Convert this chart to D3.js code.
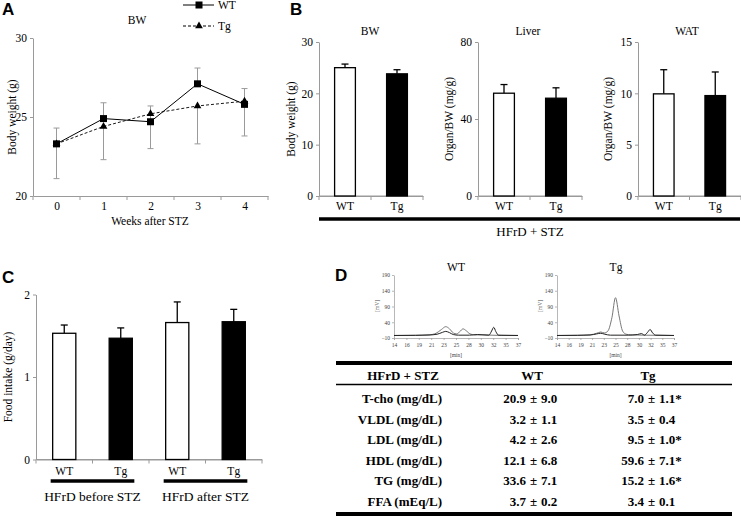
<!DOCTYPE html>
<html><head><meta charset="utf-8">
<script src="https://cdn.jsdelivr.net/npm/d3@7"></script>
<style>body{margin:0;background:#fff} svg{display:block}</style>
</head><body>
<svg id="c" width="741" height="517"></svg>
<script>
// ---------- DATA ----------
const weeks = ["0", "1", "2", "3", "4"];
const bwWT = [23.3, 24.9, 24.7, 27.1, 25.8];
const bwTg = [23.3, 24.4, 25.2, 25.7, 26.0];
const bwWTerrUp = [1.0, 1.0, 1.0, 1.0, 1.0];
const bwTgErrDown = [2.2, 2.1, 2.2, 2.4, 2.2];
const bwTicks = [20, 25, 30];

const groups = ["WT", "Tg"];
const organBW = [25.0, 23.8];
const organBWerr = [0.7, 0.8];
const organBWticks = [0, 10, 20, 30];
const organLiver = [53.4, 50.8];
const organLiverErr = [4.5, 5.4];
const organLiverTicks = [0, 40, 80];
const organWAT = [9.95, 9.78];
const organWATerr = [2.35, 2.3];
const organWATticks = [0, 5, 10, 15];

const foodIds = ["b-WT", "b-Tg", "a-WT", "a-Tg"];
const foodLabels = ["WT", "Tg", "WT", "Tg"];
const foodVals = [1.53, 1.47, 1.66, 1.67];
const foodErr = [0.10, 0.125, 0.25, 0.15];
const foodTicks = [0, 1, 2];
const foodGroups = ["HFrD before STZ", "HFrD after STZ"];

const chromXLabels = ["14", "16", "19", "21", "23", "25", "28", "30", "32", "35", "37"];
const chromYTicks = [-10, 40, 90, 140, 190];
const wtTraceA = [[14,-2],[18,-1.5],[20.5,0],[21.8,5],[22.8,17],[23.6,26],[24.3,19],[25,6],[25.6,3],[26.2,10],[26.8,19],[27.4,13],[28.1,3],[29,0],[30.5,0],[32,-1],[34,-2],[37,-2]];
const wtTraceB = [[14,-2],[18,-1.5],[20.5,-0.5],[22,2],[23,8],[23.6,11],[24.3,7],[25,1],[26,-1],[28,-1],[29.5,1],[30.5,0],[31.6,-1],[32.1,12],[32.5,24],[32.9,10],[33.4,-1],[37,-2]];
const tgTraceA = [[14,-2],[18,-1.5],[20.5,0],[21.8,5],[22.6,9],[23.3,6],[24,12],[24.8,55],[25.5,118],[26.2,60],[26.9,12],[27.6,2],[28.5,0],[31,-1],[37,-2]];
const tgTraceB = [[14,-2],[18,-1.5],[20.5,-0.5],[21.8,3],[22.6,5],[23.4,2],[24.5,-1],[28,-1],[29.8,1],[30.6,4],[31.2,-1],[31.8,8],[32.3,17],[32.8,6],[33.4,-1],[37,-2]];

const tableHeader = ["HFrD + STZ", "WT", "Tg"];
const tableRows = ["T-cho (mg/dL)", "VLDL (mg/dL)", "LDL (mg/dL)", "HDL (mg/dL)", "TG (mg/dL)", "FFA (mEq/L)"];
const tableWTmean = ["20.9", "3.2", "4.2", "12.1", "33.6", "3.7"];
const tableWTsd = ["9.0", "1.1", "2.6", "6.8", "7.1", "0.2"];
const tableTgMean = ["7.0", "3.5", "9.5", "59.6", "15.2", "3.4"];
const tableTgSd = ["1.1*", "0.4", "1.0*", "7.1*", "1.6*", "0.1"];

// ---------- DRAW ----------
const svg = d3.select("#c");
const SERIF = "'Liberation Serif','Times New Roman',serif";
const SANS = "'Liberation Sans',Arial,sans-serif";
const AX = "#9a9a9a";

function panelLetter(t, x, y) {
  svg.append("text").attr("x", x).attr("y", y).text(t)
    .attr("font-family", SANS).attr("font-weight", "bold").attr("font-size", 17);
}
function txt(g, t, x, y, size, anchor, extra) {
  const e = g.append("text").attr("x", x).attr("y", y).text(t)
    .attr("font-family", SERIF).attr("font-size", size).attr("text-anchor", anchor || "middle");
  if (extra) extra(e);
  return e;
}
function styleAxis(sel) {
  sel.selectAll("path.domain").attr("stroke", AX).attr("stroke-width", 1);
  sel.selectAll(".tick line").attr("stroke", AX);
  sel.selectAll(".tick text").attr("font-family", SERIF).attr("font-size", 11.5).attr("fill", "#000");
}
function yAxis(g, y, x0, ticks) {
  const a = g.append("g").attr("transform", `translate(${x0},0)`)
    .call(d3.axisLeft(y).tickValues(ticks).tickFormat(d3.format("~g")).tickSize(3).tickSizeOuter(0).tickPadding(3));
  styleAxis(a);
}
function xAxisBand(g, x, yPix, labels, pad) {
  const a = g.append("g").attr("transform", `translate(0,${yPix})`)
    .call(d3.axisBottom(x).tickSize(0).tickSizeOuter(0).tickPadding(pad).tickFormat((d, i) => labels[i]));
  styleAxis(a);
  const step = x.step();
  const bounds = x.domain().map(d => x(d) + x.bandwidth() / 2 - step / 2);
  bounds.push(x.range()[1]);
  a.append("path").attr("d", `M${x.range()[0]},0H${x.range()[1]}`).attr("stroke", AX);
  g.selectAll(null).data(bounds).enter().append("line")
    .attr("x1", d => d).attr("x2", d => d).attr("y1", yPix).attr("y2", yPix + 4).attr("stroke", AX);
}

// ===== Panel A =====
panelLetter("A", 2, 15);
{
  const g = svg.append("g");
  const x = d3.scalePoint().domain(weeks).range([33, 268]).padding(0.5);
  const y = d3.scaleLinear().domain([20, 30]).range([196, 38]);
  yAxis(g, y, 33, bwTicks);
  const a = g.append("g").attr("transform", "translate(0,196)")
    .call(d3.axisBottom(x).tickSize(0).tickSizeOuter(0).tickPadding(6));
  styleAxis(a);
  const step = x.step();
  const bounds = weeks.map(d => x(d) - step / 2).concat([x(weeks[weeks.length - 1]) + step / 2]);
  g.selectAll(null).data(bounds).enter().append("line")
    .attr("x1", d => d).attr("x2", d => d).attr("y1", 196).attr("y2", 200).attr("stroke", AX);
  txt(g, "Weeks after STZ", 150, 225, 11.5);
  txt(g, "BW", 137, 24, 11.5);
  txt(g, "Body weight (g)", 0, 0, 11.5, "middle", e => e.attr("transform", "translate(16,117) rotate(-90)"));
  const eb = (xi, y1, y2) => {
    g.append("line").attr("x1", xi).attr("x2", xi).attr("y1", y1).attr("y2", y2).attr("stroke", AX);
    g.append("line").attr("x1", xi - 3).attr("x2", xi + 3).attr("y1", y2).attr("y2", y2).attr("stroke", AX);
  };
  weeks.forEach((w, i) => {
    eb(x(w), y(bwWT[i]), y(bwWT[i] + bwWTerrUp[i]));
    eb(x(w), y(bwTg[i]), y(bwTg[i] - bwTgErrDown[i]));
  });
  const line = d3.line().x((d, i) => x(weeks[i])).y(d => y(d));
  g.append("path").attr("d", line(bwTg)).attr("fill", "none").attr("stroke", "#000").attr("stroke-width", 0.9).attr("stroke-dasharray", "3,2");
  g.append("path").attr("d", line(bwWT)).attr("fill", "none").attr("stroke", "#000").attr("stroke-width", 1);
  const tri = d3.symbol().type(d3.symbolTriangle).size(26);
  g.selectAll(null).data(bwTg).enter().append("path").attr("d", tri)
    .attr("transform", (d, i) => `translate(${x(weeks[i])},${y(d)})`).attr("fill", "#000");
  g.selectAll(null).data(bwWT).enter().append("rect")
    .attr("x", (d, i) => x(weeks[i]) - 3.5).attr("y", d => y(d) - 3.5).attr("width", 7).attr("height", 7).attr("fill", "#000");
  g.append("line").attr("x1", 183).attr("x2", 214).attr("y1", 5).attr("y2", 5).attr("stroke", "#000");
  g.append("rect").attr("x", 195.5).attr("y", 1.5).attr("width", 7).attr("height", 7).attr("fill", "#000");
  txt(g, "WT", 218, 9, 11.5, "start");
  g.append("line").attr("x1", 183).attr("x2", 214).attr("y1", 26).attr("y2", 26).attr("stroke", "#000").attr("stroke-dasharray", "3,2");
  g.append("path").attr("d", tri).attr("transform", "translate(199,26)").attr("fill", "#000");
  txt(g, "Tg", 218, 30, 11.5, "start");
}

// ===== Panel B =====
panelLetter("B", 290, 15);
function barPanel(o) {
  const g = svg.append("g");
  const x = d3.scaleBand().domain(o.ids).range([o.x0, o.x1]).paddingInner(o.pad).paddingOuter(o.pad / 2);
  const y = d3.scaleLinear().domain(o.domain).range([o.yBot, o.yTop]);
  yAxis(g, y, o.x0, o.ticks);
  xAxisBand(g, x, o.yBot, o.labels, o.tickPad);
  g.selectAll(null).data(o.vals).enter().append("line")
    .attr("x1", (d, i) => x(o.ids[i]) + x.bandwidth() / 2).attr("x2", (d, i) => x(o.ids[i]) + x.bandwidth() / 2)
    .attr("y1", d => y(d)).attr("y2", (d, i) => y(d + o.errs[i])).attr("stroke", "#000").attr("stroke-width", 1.3);
  g.selectAll(null).data(o.vals).enter().append("line")
    .attr("x1", (d, i) => x(o.ids[i]) + x.bandwidth() / 2 - 3.5).attr("x2", (d, i) => x(o.ids[i]) + x.bandwidth() / 2 + 3.5)
    .attr("y1", (d, i) => y(d + o.errs[i])).attr("y2", (d, i) => y(d + o.errs[i])).attr("stroke", "#000").attr("stroke-width", 1.3);
  g.selectAll(null).data(o.vals).enter().append("rect")
    .attr("x", (d, i) => x(o.ids[i])).attr("width", x.bandwidth())
    .attr("y", d => y(d)).attr("height", d => o.yBot - y(d))
    .attr("fill", (d, i) => o.labels[i] === "WT" ? "#fff" : "#000").attr("stroke", "#000").attr("stroke-width", 1.3);
  if (o.title) txt(g, o.title, o.titleX, 35, 11.5);
  txt(g, o.ylabel, 0, 0, 11.5, "middle", e => e.attr("transform", `translate(${o.ylabelX},${o.ylabelY}) rotate(-90)`));
  return g;
}
barPanel({ ids: groups, labels: groups, vals: organBW, errs: organBWerr, domain: [0, 30], ticks: organBWticks,
  x0: 319, x1: 423, yTop: 42, yBot: 196, pad: 0.6, tickPad: 6, title: "BW", titleX: 370, ylabel: "Body weight (g)", ylabelX: 295, ylabelY: 119 });
barPanel({ ids: groups, labels: groups, vals: organLiver, errs: organLiverErr, domain: [0, 80], ticks: organLiverTicks,
  x0: 478, x1: 582, yTop: 42, yBot: 196, pad: 0.6, tickPad: 6, title: "Liver", titleX: 528, ylabel: "Organ/BW (mg/g)", ylabelX: 453, ylabelY: 119 });
barPanel({ ids: groups, labels: groups, vals: organWAT, errs: organWATerr, domain: [0, 15], ticks: organWATticks,
  x0: 638, x1: 741, yTop: 42, yBot: 196, pad: 0.6, tickPad: 6, title: "WAT", titleX: 687, ylabel: "Organ/BW (mg/g)", ylabelX: 612, ylabelY: 119 });
svg.append("line").attr("x1", 319).attr("x2", 740).attr("y1", 219).attr("y2", 219).attr("stroke", "#000").attr("stroke-width", 3.5);
txt(svg, "HFrD + STZ", 530, 236, 13);

// ===== Panel C =====
panelLetter("C", 2, 283);
{
  barPanel({ ids: foodIds, labels: foodLabels, vals: foodVals, errs: foodErr, domain: [0, 2], ticks: foodTicks,
    x0: 36, x1: 262, yTop: 294.5, yBot: 459.5, pad: 0.59, tickPad: 7, title: null, ylabel: "Food intake (g/day)", ylabelX: 12, ylabelY: 377 });
  const x = d3.scaleBand().domain(foodIds).range([36, 262]).paddingInner(0.59).paddingOuter(0.295);
  const pairs = [[foodIds[0], foodIds[1]], [foodIds[2], foodIds[3]]];
  pairs.forEach((p, i) => {
    const xa = x(p[0]) - 2, xb = x(p[1]) + x.bandwidth() + 2;
    svg.append("line").attr("x1", xa).attr("x2", xb).attr("y1", 481).attr("y2", 481).attr("stroke", "#000").attr("stroke-width", 3.5);
    txt(svg, foodGroups[i], (xa + xb) / 2, 501, 13.5);
  });
}

// ===== Panel D =====
panelLetter("D", 335, 281);
function chrom(o) {
  const g = svg.append("g");
  const x = d3.scaleLinear().domain([14, 37]).range([o.x0, o.x1]);
  const y = d3.scaleLinear().domain([-10, 190]).range([338, 275]);
  const ax = g.append("g").attr("transform", `translate(${o.x0},0)`)
    .call(d3.axisLeft(y).tickValues(chromYTicks).tickSize(2).tickSizeOuter(0).tickPadding(2));
  ax.selectAll("path.domain").attr("stroke", AX).attr("stroke-width", 0.7);
  ax.selectAll(".tick line").attr("stroke", AX).attr("stroke-width", 0.7);
  ax.selectAll(".tick text").attr("font-family", SERIF).attr("font-size", 5.5).attr("fill", "#444");
  const xp = d3.scalePoint().domain(chromXLabels).range([o.x0, o.x1]);
  const bx = g.append("g").attr("transform", "translate(0,338)")
    .call(d3.axisBottom(xp).tickSize(2).tickPadding(3));
  bx.selectAll("path.domain").attr("stroke", AX).attr("stroke-width", 0.7);
  bx.selectAll(".tick line").attr("stroke", AX).attr("stroke-width", 0.7);
  bx.selectAll(".tick text").attr("font-family", SERIF).attr("font-size", 5.5).attr("fill", "#444");
  txt(g, "[min]", (o.x0 + o.x1) / 2, 357, 5.5, "middle", e => e.attr("fill", "#444"));
  txt(g, "[mV]", 0, 0, 5.5, "middle", e => e.attr("fill", "#444").attr("transform", `translate(${o.x0 - 15},306) rotate(-90)`));
  txt(g, o.title, o.titleX, 271, 11.5);
  const ln = d3.line().x(d => x(d[0])).y(d => y(d[1])).curve(d3.curveMonotoneX);
  g.append("path").attr("d", ln(o.a)).attr("fill", "none").attr("stroke", "#777").attr("stroke-width", 1);
  g.append("path").attr("d", ln(o.b)).attr("fill", "none").attr("stroke", "#222").attr("stroke-width", 1);
}
chrom({ x0: 394, x1: 518, a: wtTraceA, b: wtTraceB, title: "WT", titleX: 456 });
chrom({ x0: 557, x1: 674, a: tgTraceA, b: tgTraceB, title: "Tg", titleX: 616 });

// table
{
  const g = svg.append("g");
  const bold = e => e.attr("font-weight", "bold");
  g.append("line").attr("x1", 336).attr("x2", 732).attr("y1", 363).attr("y2", 363).attr("stroke", "#000").attr("stroke-width", 4);
  g.append("line").attr("x1", 336).attr("x2", 732).attr("y1", 384.5).attr("y2", 384.5).attr("stroke", "#000").attr("stroke-width", 1.3);
  g.append("line").attr("x1", 336).attr("x2", 732).attr("y1", 514).attr("y2", 514).attr("stroke", "#000").attr("stroke-width", 4);
  txt(g, tableHeader[0], 403, 379.5, 13, "middle", bold);
  txt(g, tableHeader[1], 532, 379.5, 13, "middle", bold);
  txt(g, tableHeader[2], 648, 379.5, 13, "middle", bold);
  const rowY = d3.scaleBand().domain(tableRows).range([388.2, 511.8]);
  tableRows.forEach((r, i) => {
    const yb = rowY(r) + rowY.bandwidth() / 2 + 4.5;
    txt(g, r, 442, yb, 13, "end", bold);
    txt(g, tableWTmean[i], 526, yb, 13, "end", bold);
    txt(g, "±", 533.5, yb, 13, "middle", bold);
    txt(g, tableWTsd[i], 541, yb, 13, "start", bold);
    txt(g, tableTgMean[i], 644, yb, 13, "end", bold);
    txt(g, "±", 651.5, yb, 13, "middle", bold);
    txt(g, tableTgSd[i], 659, yb, 13, "start", bold);
  });
}
</script>
</body></html>
